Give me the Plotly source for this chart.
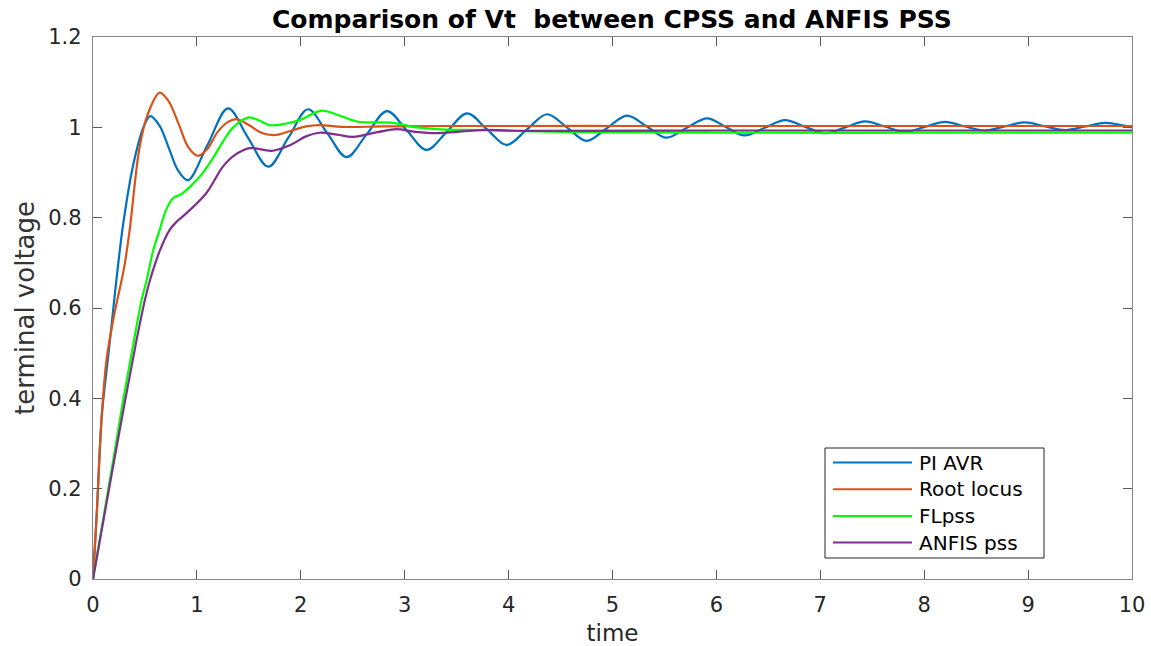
import plotly.graph_objects as go

# ---- data ----
pi_avr_t = [0, 0.035, 0.084, 0.13, 0.164, 0.21, 0.29, 0.39, 0.485, 0.551, 0.64, 0.73, 0.82, 0.914,
            1.1, 1.30, 1.49, 1.687, 1.88, 2.07, 2.255, 2.44, 2.635, 2.83, 3.02, 3.21, 3.405, 3.60, 3.79,
            3.98, 4.175, 4.37, 4.56, 4.75, 4.945, 5.14, 5.33, 5.52, 5.715, 5.91, 6.09, 6.27, 6.465, 6.66,
            6.855, 7.05, 7.24, 7.43, 7.62, 7.81, 8.005, 8.20, 8.39, 8.58, 8.775, 8.97, 9.165, 9.36, 9.55,
            9.74, 9.87, 10]
pi_avr_v = [0, 0.14, 0.36, 0.46, 0.53, 0.63, 0.785, 0.92, 1.0, 1.025, 1.004, 0.954, 0.904, 0.883,
            0.96, 1.042, 0.978, 0.913, 0.977, 1.04, 0.987, 0.934, 0.985, 1.036, 0.993, 0.95, 0.99, 1.031, 0.996,
            0.961, 0.995, 1.029, 1.0, 0.97, 0.998, 1.026, 1.002, 0.977, 0.999, 1.02, 1.001, 0.982, 0.999, 1.016,
            1.001, 0.987, 1.0, 1.013, 1.002, 0.99, 1.001, 1.012, 1.002, 0.993, 1.002, 1.011, 1.002, 0.994, 1.002,
            1.01, 1.006, 1.0]

root_t = [0, 0.035, 0.084, 0.13, 0.2, 0.3, 0.353, 0.449, 0.53, 0.642, 0.73, 0.825, 0.92, 1.01,
          1.1, 1.2, 1.3, 1.38, 1.5, 1.62, 1.75, 1.9, 2.05, 2.18, 2.4, 2.8, 3.5, 5, 7, 10]
root_v = [0, 0.139, 0.36, 0.485, 0.58, 0.69, 0.773, 0.957, 1.031, 1.077, 1.057, 1.007, 0.955, 0.937,
          0.952, 0.99, 1.012, 1.018, 1.005, 0.988, 0.983, 0.992, 1.002, 1.005, 1.001, 1.002, 1.003, 1.003,
          1.003, 1.003]

fl_t = [0, 0.1, 0.2, 0.29, 0.38, 0.468, 0.517, 0.58, 0.642, 0.7, 0.77, 0.85, 0.95, 1.05, 1.15, 1.25,
        1.35, 1.5, 1.6, 1.7, 1.85, 1.99, 2.2, 2.35, 2.54, 2.89, 3.08, 3.4, 3.72, 4.5, 6, 8, 10]
fl_v = [0, 0.135, 0.27, 0.396, 0.51, 0.618, 0.662, 0.728, 0.773, 0.815, 0.843, 0.852, 0.872, 0.897, 0.93,
        0.968, 1.0, 1.022, 1.015, 1.005, 1.008, 1.016, 1.037, 1.028, 1.013, 1.01, 1.001, 0.995, 0.994, 0.99,
        0.988, 0.988, 0.988]

anfis_t = [0, 0.164, 0.31, 0.42, 0.50, 0.549, 0.645, 0.738, 0.80, 0.90, 1.09, 1.25, 1.36, 1.51, 1.72,
           1.90, 2.05, 2.18, 2.35, 2.5, 2.75, 2.92, 3.1, 3.31, 3.5, 3.72, 4.2, 6, 8, 10]
anfis_v = [0, 0.212, 0.396, 0.53, 0.618, 0.662, 0.728, 0.773, 0.79, 0.81, 0.854, 0.913, 0.938, 0.954, 0.948,
           0.961, 0.98, 0.988, 0.984, 0.979, 0.99, 0.996, 0.99, 0.987, 0.99, 0.994, 0.992, 0.993, 0.993, 0.993]

series_names = ["PI AVR", "Root locus", "FLpss", "ANFIS pss"]
series_colors = ["#0072BD", "#D95319", "#00FF00", "#7E2F8E"]
x_ticks = [0, 1, 2, 3, 4, 5, 6, 7, 8, 9, 10]
y_ticks = [0, 0.2, 0.4, 0.6, 0.8, 1, 1.2]
title_text = "Comparison of Vt\u00a0 between CPSS and ANFIS PSS"

series = [(pi_avr_t, pi_avr_v), (root_t, root_v), (fl_t, fl_v), (anfis_t, anfis_v)]

FONT = "DejaVu Sans, Liberation Sans, Arial, sans-serif"

fig = go.Figure()
for (t, v), name, col in zip(series, series_names, series_colors):
    fig.add_trace(go.Scatter(x=t, y=v, mode="lines", name=name,
                             line=dict(color=col, width=2.2, shape="spline", smoothing=1.0),
                             showlegend=False))

axis_common = dict(showline=True, linecolor="#858585", linewidth=1.3, mirror="allticks",
                   ticks="inside", ticklen=9, tickcolor="#5a5a5a", tickwidth=1,
                   showgrid=False, zeroline=False, automargin=False,
                   tickfont=dict(family=FONT, size=21, color="#262626"))

fig.update_xaxes(range=[0, 10], tickvals=x_ticks, ticklabelstandoff=7,
                 title=dict(text="time", standoff=8, font=dict(family=FONT, size=23, color="#262626")),
                 **axis_common)
fig.update_yaxes(range=[0, 1.2], tickvals=y_ticks, ticklabelstandoff=6,
                 title=dict(text="terminal voltage", standoff=6, font=dict(family=FONT, size=26, color="#333333")),
                 **axis_common)

# legend box drawn in paper coordinates (MATLAB-style long line samples)
L, R, T, B = 93, 1132, 37, 579
W, H = R - L, B - T
def px(x):
    return (x - L) / W
def py(y):
    return (B - y) / H

shapes = [dict(type="rect", xref="paper", yref="paper", x0=px(825), x1=px(1044), y0=py(558), y1=py(448),
               line=dict(color="#262626", width=1), fillcolor="white", layer="above")]
annotations = []
for i, (name, col) in enumerate(zip(series_names, series_colors)):
    yy = 462.5 + i * 26.7
    shapes.append(dict(type="line", xref="paper", yref="paper", x0=px(833), x1=px(912), y0=py(yy), y1=py(yy),
                       line=dict(color=col, width=2), layer="above"))
    annotations.append(dict(xref="paper", yref="paper", x=px(917), y=py(yy), text=name, showarrow=False,
                            xanchor="left", yanchor="middle",
                            font=dict(family=FONT, size=20, color="#000000")))

annotations.append(dict(xref="paper", yref="paper", x=px(612), y=py(19), text="<b>" + title_text + "</b>",
                        showarrow=False, xanchor="center", yanchor="middle",
                        font=dict(family=FONT, size=25, color="#000000")))

fig.update_layout(width=1151, height=646, margin=dict(l=L, r=1151 - R, t=T, b=646 - B),
                  plot_bgcolor="white", paper_bgcolor="white", showlegend=False,
                  shapes=shapes, annotations=annotations)

fig.write_html("out.html")
